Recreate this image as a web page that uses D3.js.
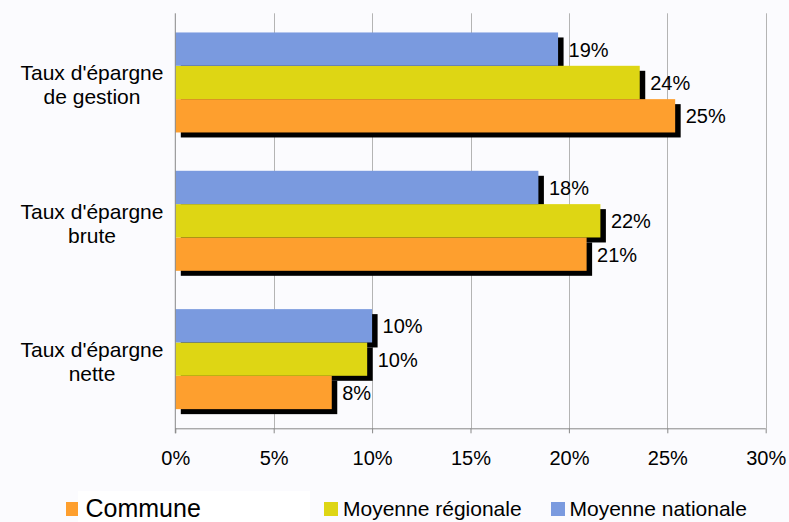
<!DOCTYPE html>
<html>
<head>
<meta charset="utf-8">
<script src="https://cdn.jsdelivr.net/npm/d3@7/dist/d3.min.js"></script>
<style>
  html, body { margin: 0; padding: 0; background: #fbfbfe; }
  svg { display: block; }
  text { font-family: "Liberation Sans", Arial, sans-serif; fill: #000; }
</style>
</head>
<body>
<svg id="chart" width="789" height="522"></svg>
<script>
// ---- data ----
const categories = ["Taux d'épargne\nde gestion", "Taux d'épargne\nbrute", "Taux d'épargne\nnette"];
const seriesNames = ["Commune", "Moyenne régionale", "Moyenne nationale"];
const communeValues = [25.4, 20.9, 7.95];
const regionaleValues = [23.6, 21.6, 9.75];
const nationaleValues = [19.45, 18.45, 10.0];
const tickValues = [0, 5, 10, 15, 20, 25, 30];

(function () {
const seriesValues = [communeValues, regionaleValues, nationaleValues];
const colors = ["#fe9f2e", "#ded614", "#7a9adf"];

const svg = d3.select("#chart");
svg.append("rect").attr("width", 789).attr("height", 522).attr("fill", "#fbfbfe");

const pLeft = 175.3, pRight = 765.7, pTop = 13.3, pBottom = 428.3;

const x = d3.scaleLinear().domain([0, 30]).range([pLeft, pRight]);
const y0 = d3.scaleBand().domain(categories).range([pTop, pBottom]).paddingInner(0.277).paddingOuter(0.1385);
// inner order from top: nationale, régionale, commune
const y1 = d3.scaleBand().domain([2, 1, 0]).range([0, y0.bandwidth()]);

// gridlines
svg.append("g").selectAll("line").data(tickValues.slice(1)).join("line")
  .attr("x1", d => Math.round(x(d)) + 0.5).attr("x2", d => Math.round(x(d)) + 0.5)
  .attr("y1", pTop).attr("y2", pBottom)
  .attr("stroke", "#b4b4b4").attr("stroke-width", 1);

// data rows
const rows = [];
categories.forEach((c, ci) => {
  seriesValues.forEach((vals, si) => rows.push({ c, si, v: vals[ci] }));
});

// shadows
svg.append("g").selectAll("rect").data(rows).join("rect")
  .attr("x", x(0) + 5.5)
  .attr("y", d => y0(d.c) + y1(d.si) + 5)
  .attr("width", d => x(d.v) - x(0))
  .attr("height", y1.bandwidth())
  .attr("fill", "#000");

// bars
svg.append("g").selectAll("rect").data(rows).join("rect")
  .attr("x", x(0))
  .attr("y", d => y0(d.c) + y1(d.si))
  .attr("width", d => x(d.v) - x(0))
  .attr("height", y1.bandwidth())
  .attr("fill", d => colors[d.si]);

// value labels
const fmt = d3.format(".0f");
svg.append("g").selectAll("text").data(rows).join("text")
  .attr("x", d => x(d.v) + 10.5)
  .attr("y", d => y0(d.c) + y1(d.si) + y1.bandwidth() / 2 + 7.5)
  .attr("font-size", 20)
  .text(d => fmt(d.v) + "%");

// x axis
const xAxis = d3.axisBottom(x).tickValues(tickValues).tickSize(5).tickPadding(18)
  .tickFormat(d => d + "%");
const gx = svg.append("g").attr("transform", `translate(0,${pBottom})`).call(xAxis);
gx.select(".domain").attr("stroke", "#888").attr("d", `M${pLeft},0.5H${pRight}`);
gx.selectAll(".tick line").attr("stroke", "#888");
gx.selectAll(".tick text").attr("font-size", 20).attr("font-family", "Liberation Sans, Arial, sans-serif").attr("fill", "#000");

// y axis line
svg.append("line").attr("x1", pLeft).attr("x2", pLeft).attr("y1", pTop).attr("y2", pBottom + 5)
  .attr("stroke", "#888").attr("stroke-width", 1);

// category labels
svg.append("g").selectAll("text").data(categories).join("text")
  .attr("text-anchor", "middle")
  .attr("font-size", 21)
  .each(function(d) {
    const lines = d.split("\n");
    const c = y0(d) + y0.bandwidth() / 2;
    d3.select(this).selectAll("tspan").data(lines).join("tspan")
      .attr("x", 92)
      .attr("y", (l, i) => c - 2 + i * 24)
      .text(l => l);
  });

// legend
svg.append("rect").attr("x", 78).attr("y", 491).attr("width", 232).attr("height", 31).attr("fill", "#ffffff");
const legendItems = [
  { name: seriesNames[0], color: colors[0], mx: 66, mw: 12, tx: 85.5, size: 25, base: 516.5 },
  { name: seriesNames[1], color: colors[1], mx: 324, mw: 14, tx: 343, size: 21, base: 516 },
  { name: seriesNames[2], color: colors[2], mx: 551, mw: 14, tx: 569.5, size: 21, base: 516 }
];
const lg = svg.append("g").selectAll("g").data(legendItems).join("g");
lg.append("rect").attr("x", d => d.mx).attr("y", 502).attr("width", d => d.mw).attr("height", 14).attr("fill", d => d.color);
lg.append("text").attr("x", d => d.tx).attr("y", d => d.base).attr("font-size", d => d.size).text(d => d.name);
})();
</script>
</body>
</html>
